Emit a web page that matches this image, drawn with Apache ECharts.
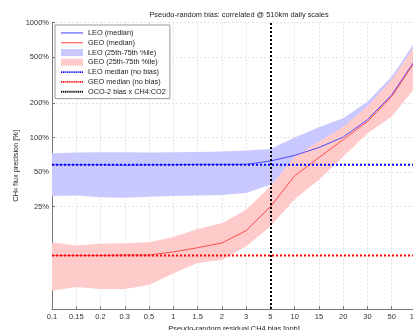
<!DOCTYPE html>
<html>
<head>
<meta charset="utf-8">
<script src="https://cdn.jsdelivr.net/npm/echarts@6/dist/echarts.min.js"></script>
<style>
html,body{margin:0;padding:0;background:#fff;}
#chart{width:413px;height:330px;}
</style>
</head>
<body>
<div id="chart"></div>
<script>
// ---- data ----
const categories = ['0.1','0.15','0.2','0.3','0.5','1','1.5','2','3','5','10','15','20','30','50','100'];
const leoMedian = [58, 58, 58, 57.5, 58, 58, 58.5, 58.5, 58.5, 62.5, 70, 82, 101, 143, 235, 485];
const geoMedian = [9.4, 9.4, 9.4, 9.5, 9.5, 10.1, 11.0, 12.1, 15.5, 25, 46.5, 67, 96, 138, 228, 475];
const leoLower = [31, 31.3, 30.3, 30, 30.5, 31, 31.3, 31.6, 32.9, 38.8, 55, 68, 88, 122, 200, 400];
const leoUpper = [73, 74, 74.5, 74.5, 74, 74.5, 75, 75.5, 77, 79.5, 100, 123, 147, 205, 340, 700];
const geoLower = [4.65, 5.0, 4.8, 4.8, 5.2, 6.6, 8.1, 8.6, 11.3, 16.8, 29, 43, 68, 109, 152, 279];
const geoUpper = [12.2, 11.5, 11.9, 12.0, 12.3, 13.6, 16.0, 18.0, 23.5, 37.5, 68, 92, 124, 186, 318, 650];
const leoNoBias = [58, 58, 58, 58, 58, 58, 58, 58, 58, 58, 58, 58, 58, 58, 58, 58];
const geoNoBias = [9.4, 9.4, 9.4, 9.4, 9.4, 9.4, 9.4, 9.4, 9.4, 9.4, 9.4, 9.4, 9.4, 9.4, 9.4, 9.4];
const ocoBiasCategory = '5';
const yTickValues = [25, 50, 100, 200, 500, 1000];
const yMin = 3.22, yMax = 1000;

const FONT = 'Liberation Sans, Arial, Helvetica, sans-serif';
const names = {
  leoMed: 'LEO (median)', geoMed: 'GEO (median)',
  leoBand: 'LEO (25th-75th %ile)', geoBand: 'GEO (25th-75th %ile)',
  leoNB: 'LEO median (no bias)', geoNB: 'GEO median (no bias)',
  oco: 'OCO-2 bias x CH4:CO2'
};
const leoBandColor = '#c9c9ff';
const geoBandColor = '#ffcaca';

// legend icon shapes (styling only)
const solidIcon = 'path://M0,0H22V1.3H0Z';
function dottedIcon() {
  let p = '';
  for (let x = 0; x < 22; x += 2) p += 'M' + x + ',0h1.2v1.8h-1.2Z';
  return 'path://' + p;
}

const diff = (a, b) => a.map((v, i) => v - b[i]);

const chart = echarts.init(document.getElementById('chart'), null, {renderer: 'canvas'});
chart.setOption({
  animation: false,
  backgroundColor: '#fff',
  textStyle: {fontFamily: FONT},
  title: {
    text: 'Pseudo-random bias: correlated @ 510km daily scales',
    left: 234, top: 6, textAlign: 'center',
    textStyle: {fontFamily: FONT, fontSize: 7.4, fontWeight: 'normal', color: '#222'}
  },
  grid: {left: 52, width: 364, top: 22.7, height: 286.3, containLabel: false, outerBoundsMode: 'none'},
  legend: {
    left: 55, top: 25, orient: 'vertical',
    padding: [3, 4, 2, 6],
    itemGap: 0, itemWidth: 22, itemHeight: 7,
    backgroundColor: '#fff', borderColor: '#999', borderWidth: 1,
    textStyle: {fontFamily: FONT, fontSize: 7.3, lineHeight: 9.8, color: '#222'},
    data: [
      {name: names.leoMed, icon: solidIcon, itemStyle: {color: '#6a6aff'}},
      {name: names.geoMed, icon: solidIcon, itemStyle: {color: '#ff6a6a'}},
      {name: names.leoBand, icon: 'rect', itemStyle: {color: leoBandColor, borderWidth: 0}},
      {name: names.geoBand, icon: 'rect', itemStyle: {color: geoBandColor, borderWidth: 0}},
      {name: names.leoNB, icon: dottedIcon(), itemStyle: {color: '#0000ff'}},
      {name: names.geoNB, icon: dottedIcon(), itemStyle: {color: '#ff0000'}},
      {name: names.oco, icon: dottedIcon(), itemStyle: {color: '#000'}}
    ]
  },
  xAxis: {
    type: 'category', data: categories, boundaryGap: false,
    name: 'Pseudo-random residual CH4 bias [ppb]', nameLocation: 'middle', nameGap: 16,
    nameMoveOverlap: false,
    nameTextStyle: {fontFamily: FONT, fontSize: 7.4, color: '#222'},
    axisLine: {lineStyle: {color: '#777', width: 1}},
    axisTick: {inside: true, length: 3, lineStyle: {color: '#777'}},
    axisLabel: {fontFamily: FONT, fontSize: 7.5, color: '#333', margin: 4, interval: 0},
    splitLine: {show: true, lineStyle: {color: '#e3e3e3', width: 1, type: [2, 2]}}
  },
  yAxis: {
    type: 'log', logBase: 10, min: yMin, max: yMax,
    name: 'CH{sub|4} flux precision [%]', nameLocation: 'middle', nameGap: 33, nameRotate: 90,
    nameMoveOverlap: false,
    nameTextStyle: {fontFamily: FONT, fontSize: 7.4, color: '#222',
      rich: {sub: {fontFamily: FONT, fontSize: 5.5, color: '#222', verticalAlign: 'bottom'}}},
    axisLine: {show: true, lineStyle: {color: '#777', width: 1}},
    axisTick: {show: true, inside: true, length: 3, lineStyle: {color: '#777'}, customValues: yTickValues},
    axisLabel: {fontFamily: FONT, fontSize: 7.5, color: '#333', margin: 3, customValues: yTickValues,
      formatter: v => v + '%'},
    splitLine: {show: true, lineStyle: {color: '#e3e3e3', width: 1, type: [2, 2]}},
    minorTick: {show: false}, minorSplitLine: {show: false}
  },
  series: [
    {name: '_leoLo', type: 'line', stack: 'leo', data: leoLower, symbol: 'none',
      lineStyle: {opacity: 0}, silent: true, z: 1},
    {name: names.leoBand, type: 'line', stack: 'leo', data: diff(leoUpper, leoLower), symbol: 'none',
      color: leoBandColor, lineStyle: {opacity: 0, width: 0}, areaStyle: {color: leoBandColor, opacity: 1}, z: 1},
    {name: '_geoLo', type: 'line', stack: 'geo', data: geoLower, symbol: 'none',
      lineStyle: {opacity: 0}, silent: true, z: 2},
    {name: names.geoBand, type: 'line', stack: 'geo', data: diff(geoUpper, geoLower), symbol: 'none',
      color: geoBandColor, lineStyle: {opacity: 0, width: 0}, areaStyle: {color: geoBandColor, opacity: 1}, z: 2},
    {name: names.leoMed, type: 'line', data: leoMedian, symbol: 'none', color: '#4b4bff',
      lineStyle: {color: '#4b4bff', width: 1}, z: 3},
    {name: names.geoMed, type: 'line', data: geoMedian, symbol: 'none', color: '#ff4b4b',
      lineStyle: {color: '#ff4b4b', width: 1}, z: 3},
    {name: names.leoNB, type: 'line', data: leoNoBias, symbol: 'none', color: '#0000ff',
      lineStyle: {color: '#0000ff', width: 2, type: 'dotted'}, z: 4},
    {name: names.geoNB, type: 'line', data: geoNoBias, symbol: 'none', color: '#ff0000',
      lineStyle: {color: '#ff0000', width: 2, type: 'dotted'}, z: 4},
    {name: names.oco, type: 'line', data: [], symbol: 'none', color: '#000',
      lineStyle: {color: '#000', width: 2, type: 'dotted'}, z: 5,
      markLine: {silent: true, symbol: 'none', label: {show: false},
        lineStyle: {color: '#000', width: 2, type: 'dotted'},
        data: [{xAxis: ocoBiasCategory}]}}
  ]
});
</script>
</body>
</html>
